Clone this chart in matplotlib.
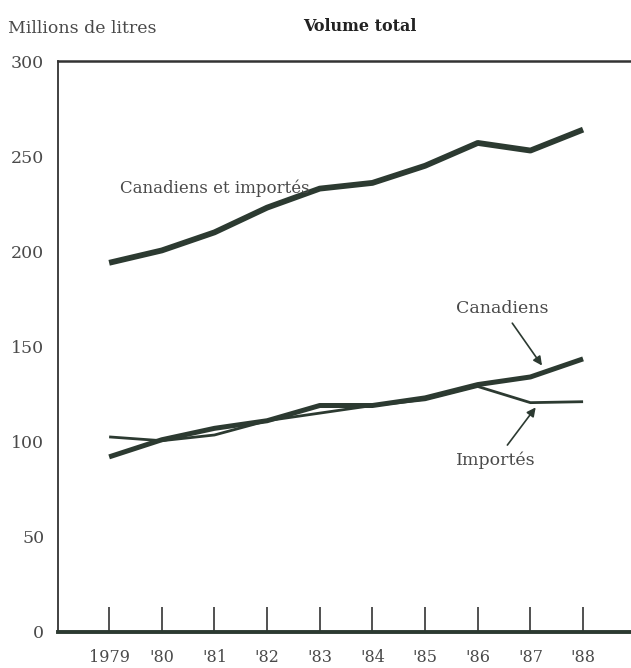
import matplotlib
matplotlib.use("Agg")
import matplotlib.pyplot as plt

# Wine sales volume, millions of litres
YEARS = [1979, 1980, 1981, 1982, 1983, 1984, 1985, 1986, 1987, 1988]
YEAR_LABELS = ["1979", "'80", "'81", "'82", "'83", "'84", "'85", "'86", "'87", "'88"]
TOTAL = [194, 200.5, 210, 223, 233, 236, 245, 257, 253, 264]
CANADIENS = [92, 101, 107, 111, 119, 119, 123, 130, 134, 143.5]
IMPORTES = [102.5, 100.5, 103.5, 111, 115, 119, 122, 129, 120.5, 121]
Y_TICKS = [0, 50, 100, 150, 200, 250, 300]

INK = "#2c3a31"
TEXT = "#4a4a4a"

plt.rcParams["font.family"] = ["DejaVu Serif"]

fig = plt.figure(figsize=(6.31, 6.68), dpi=100)
ax = fig.add_axes([0.092, 0.054, 0.908, 0.8545])

ax.plot(YEARS, TOTAL, color=INK, lw=4.2, solid_capstyle="butt")
ax.plot(YEARS, IMPORTES, color=INK, lw=2.0, solid_capstyle="butt")
ax.plot(YEARS, CANADIENS, color=INK, lw=3.6, solid_capstyle="butt")

ax.set_xlim(1978.03, 1988.91)
ax.set_ylim(0, 300)

# Spines: left thin, bottom heavy, top medium, right cut off
ax.spines["right"].set_visible(False)
ax.spines["left"].set_linewidth(1.3)
ax.spines["left"].set_color("#333333")
ax.spines["bottom"].set_linewidth(2.8)
ax.spines["bottom"].set_color(INK)
ax.spines["top"].set_linewidth(1.8)
ax.spines["top"].set_color("#333333")

ax.set_xticks(YEARS)
ax.set_xticklabels(YEAR_LABELS)
ax.set_yticks(Y_TICKS)
ax.tick_params(axis="x", direction="in", length=18, width=1.2, color="#333333",
               pad=12, labelsize=11.5, labelcolor=TEXT)
ax.tick_params(axis="y", direction="in", length=17, width=1.2, color="#333333",
               pad=10, labelsize=12.5, labelcolor=TEXT, right=True)
# Hide the y ticks at 0 and 300 (they sit on the frame)
for t in ax.yaxis.get_major_ticks():
    if t.get_loc() in (0, 300):
        t.tick1line.set_visible(False)
        t.tick2line.set_visible(False)
    if t.get_loc() in (50, 200):
        t.tick2line.set_visible(False)

# Titles
fig.text(0.013, 0.958, "Millions de litres", fontsize=12.5, color=TEXT, va="center")
fig.text(0.57, 0.960, "Volume total", fontsize=11.5, color="#222222",
         fontweight="bold", va="center", ha="center")

# Series labels
ax.text(1979.2, 233, "Canadiens et importés", fontsize=12, color=TEXT, va="center")
ax.annotate("Canadiens", xy=(1987.22, 140), xytext=(1986.46, 170),
            fontsize=12.5, color=TEXT, ha="center", va="center",
            arrowprops=dict(arrowstyle="-|>", color=INK, lw=1.2, shrinkA=3, shrinkB=0,
                            mutation_scale=13))
ax.annotate("Importés", xy=(1987.1, 118), xytext=(1986.35, 90.4),
            fontsize=12.5, color=TEXT, ha="center", va="center",
            arrowprops=dict(arrowstyle="-|>", color=INK, lw=1.2, shrinkA=3, shrinkB=0,
                            mutation_scale=13))

fig.savefig("out.png", dpi=100, facecolor="white")
